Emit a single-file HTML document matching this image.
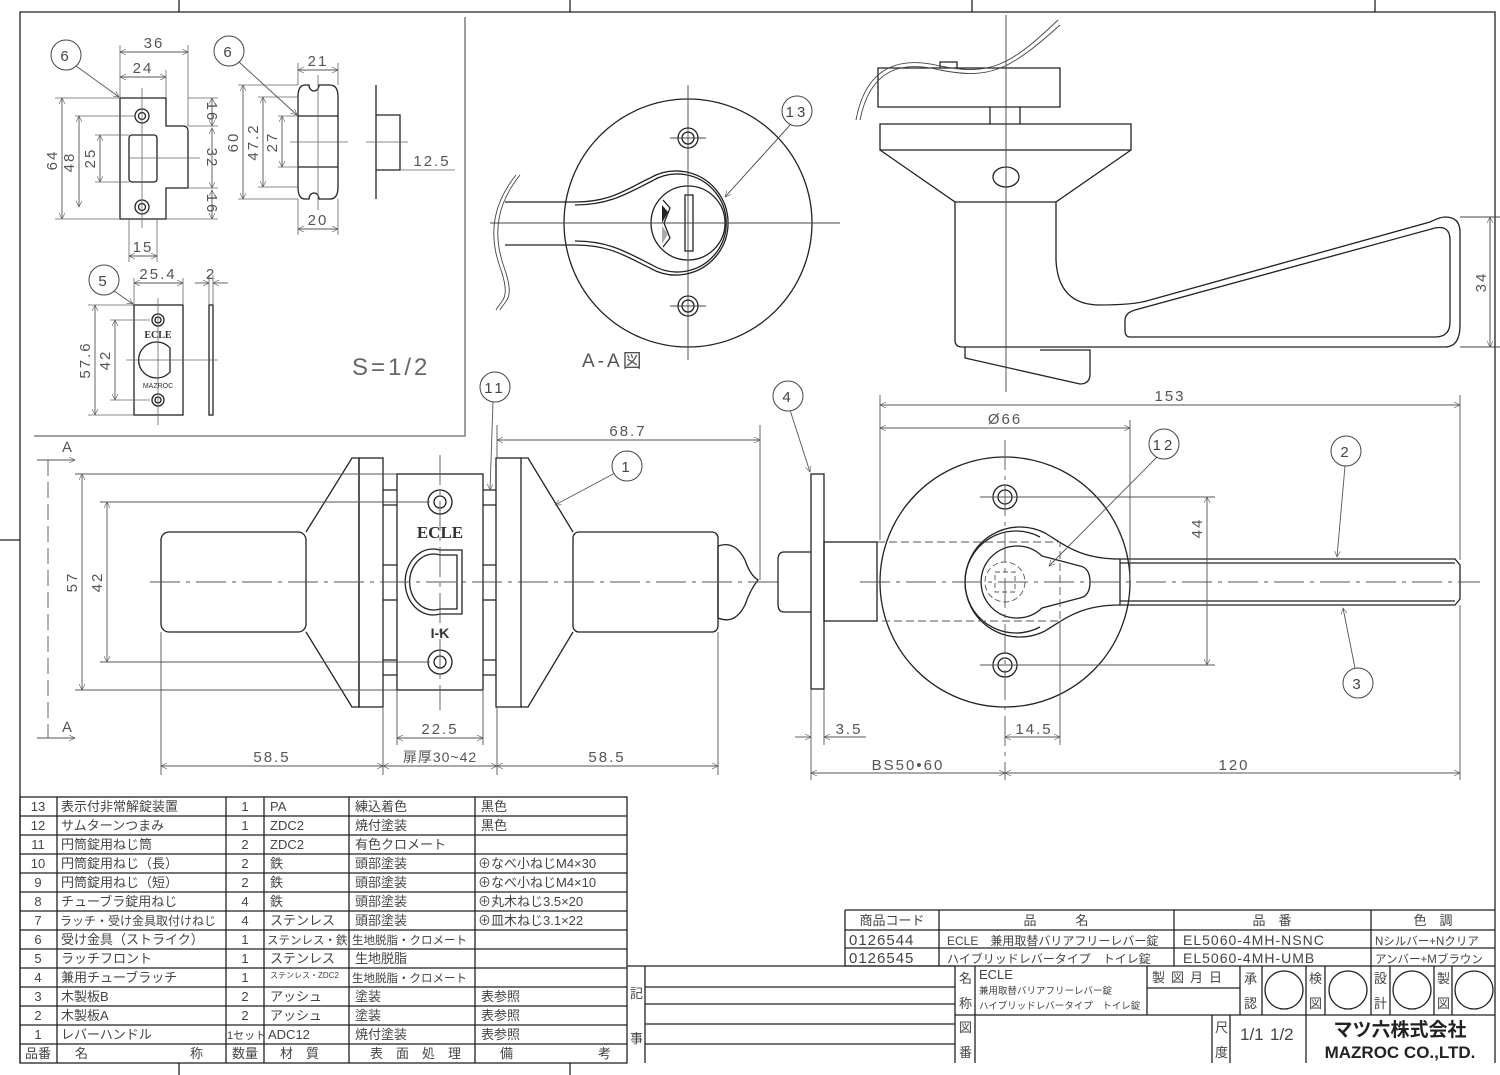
<!DOCTYPE html>
<html><head><meta charset="utf-8"><style>
html,body{margin:0;padding:0;background:#fff;}
svg{display:block;}
text{font-family:"Liberation Sans","Noto Sans CJK JP",sans-serif;fill:#444;}
.d{font-size:15px;letter-spacing:2px;fill:#555;}
.t{font-size:13px;fill:#333;}
.s{font-size:11.5px;}
.n{font-size:15px;letter-spacing:3px;fill:#444;}
</style></head><body>
<svg width="1500" height="1075" viewBox="0 0 1500 1075" xmlns="http://www.w3.org/2000/svg">
<defs>
<marker id="a" viewBox="0 0 10 10" refX="10" refY="5" markerWidth="10" markerHeight="6" orient="auto-start-reverse" markerUnits="userSpaceOnUse"><path d="M0,0 L10,5 L0,10" fill="none" stroke="#555" stroke-width="1"/></marker>
</defs>
<g fill="none" stroke="#222" stroke-width="1.3">
<path d="M20 1063 V12 H1495 V1063"/>
<path d="M179 0 V12 M570 0 V12 M972 0 V12 M1375 0 V12 M0 540 H20 M179 1063 V1075 M570 1063 V1075"/>
<path d="M465 17 V436 H34" stroke="#666"/>
</g>

<g fill="none" stroke="#222" stroke-width="1.3">
<path d="M120 98 H166 V126 H183 Q188 126 188 131 V188 H166 V219 H120 Z"/>
<rect x="129" y="135" width="28" height="47" rx="3"/>
<circle cx="142" cy="116" r="7"/><circle cx="142" cy="116" r="3.5"/>
<circle cx="142" cy="207" r="7"/><circle cx="142" cy="207" r="3.5"/>
<path d="M305 85 H309 A5 6 0 0 0 319 85 H330 Q338 85 338 97 V187 Q338 199 330 199 H319 A5 6 0 0 0 309 199 H305 Q298 199 298 187 V97 Q298 85 305 85 Z"/>
<path d="M298 116 H338 M298 167 H338"/>
<path d="M376 85 V199 M376 115 H400 V170 H376"/>
<rect x="134" y="305" width="49" height="110"/>
<path d="M170 348 A18 18 0 1 0 170 372 Z"/>
<circle cx="158" cy="320" r="6"/><circle cx="158" cy="320" r="3"/>
<circle cx="158" cy="400" r="6"/><circle cx="158" cy="400" r="3"/>
<rect x="209" y="305" width="4" height="110"/>
</g>
<g stroke="#666" stroke-width="0.8" fill="none">
<path d="M142 88 V228 M128 158 H200 M318 75 V210 M290 142 H348 M366 142 H408 M158 298 V425 M126 360 H218"/>
<path d="M120 98 H55 M120 219 H55 M134 116 H75 M129 135 H95 M129 182 H95 M188 98 H218 M188 126 H218 M188 188 H218 M166 219 H218 M120 98 V45 M188 126 V45 M166 98 V70 M129 219 V262 M157 219 V262"/>
<path d="M298 85 V63 M338 85 V63 M298 199 V235 M338 199 V235 M298 85 H238 M298 199 H238 M298 97 H258 M298 187 H258 M298 116 H278 M298 167 H278 M400 170 H455"/>
<path d="M134 305 V278 M183 305 V278 M209 305 V275 M213 305 V275 M134 305 H88 M134 415 H88 M150 320 H110 M150 400 H110"/>
</g>
<g stroke="#555" stroke-width="0.9" fill="none">
<line x1="120" y1="52" x2="188" y2="52" marker-start="url(#a)" marker-end="url(#a)"/>
<line x1="120" y1="77" x2="166" y2="77" marker-start="url(#a)" marker-end="url(#a)"/>
<line x1="62" y1="98" x2="62" y2="219" marker-start="url(#a)" marker-end="url(#a)"/>
<line x1="79" y1="116" x2="79" y2="207" marker-start="url(#a)" marker-end="url(#a)"/>
<line x1="100" y1="135" x2="100" y2="182" marker-start="url(#a)" marker-end="url(#a)"/>
<line x1="212" y1="98" x2="212" y2="126" marker-start="url(#a)" marker-end="url(#a)"/>
<line x1="212" y1="128" x2="212" y2="188" marker-start="url(#a)" marker-end="url(#a)"/>
<line x1="212" y1="190" x2="212" y2="219" marker-start="url(#a)" marker-end="url(#a)"/>
<line x1="129" y1="256" x2="157" y2="256" marker-start="url(#a)" marker-end="url(#a)"/>
<line x1="298" y1="70" x2="338" y2="70" marker-start="url(#a)" marker-end="url(#a)"/>
<line x1="298" y1="229" x2="338" y2="229" marker-start="url(#a)" marker-end="url(#a)"/>
<line x1="243" y1="85" x2="243" y2="199" marker-start="url(#a)" marker-end="url(#a)"/>
<line x1="263" y1="97" x2="263" y2="187" marker-start="url(#a)" marker-end="url(#a)"/>
<line x1="282" y1="116" x2="282" y2="167" marker-start="url(#a)" marker-end="url(#a)"/>
<line x1="134" y1="283" x2="183" y2="283" marker-start="url(#a)" marker-end="url(#a)"/>
<line x1="195" y1="283" x2="209" y2="283" marker-end="url(#a)"/><line x1="228" y1="283" x2="213" y2="283" marker-end="url(#a)"/>
<line x1="95" y1="305" x2="95" y2="415" marker-start="url(#a)" marker-end="url(#a)"/>
<line x1="115" y1="320" x2="115" y2="400" marker-start="url(#a)" marker-end="url(#a)"/>
<line x1="76" y1="66" x2="119" y2="97" marker-end="url(#a)"/>
<line x1="239" y1="62" x2="297" y2="115" marker-end="url(#a)"/>
<line x1="114" y1="291" x2="133" y2="304" marker-end="url(#a)"/>
</g>
<g stroke="#444" fill="#fff" stroke-width="1">
<circle cx="66" cy="55" r="15"/><circle cx="229" cy="51" r="15"/><circle cx="104" cy="280" r="15"/>
</g>
<text x="66" y="61" class="n" text-anchor="middle">6</text>
<text x="229" y="57" class="n" text-anchor="middle">6</text>
<text x="104" y="286" class="n" text-anchor="middle">5</text>
<text x="154" y="48" class="d" text-anchor="middle">36</text>
<text x="143" y="73" class="d" text-anchor="middle">24</text>
<text x="143" y="252" class="d" text-anchor="middle">15</text>
<text x="318" y="66" class="d" text-anchor="middle">21</text>
<text x="318" y="225" class="d" text-anchor="middle">20</text>
<text x="432" y="166" class="d" text-anchor="middle">12.5</text>
<text x="158" y="279" class="d" text-anchor="middle">25.4</text>
<text x="211" y="279" class="d" text-anchor="middle">2</text>
<text x="158" y="338" text-anchor="middle" style="font-family:'Liberation Serif',serif;font-size:10px;font-weight:bold;fill:#333">ECLE</text>
<text x="158" y="388" text-anchor="middle" style="font-size:7px;fill:#333">MAZROC</text>
<text x="352" y="375" style="font-size:24px;letter-spacing:3px;fill:#666">S=1/2</text>
<g class="d">
<text transform="translate(57,160) rotate(-90)" text-anchor="middle" class="d">64</text>
<text transform="translate(74,162) rotate(-90)" text-anchor="middle" class="d">48</text>
<text transform="translate(95,158) rotate(-90)" text-anchor="middle" class="d">25</text>
<text transform="translate(207,112) rotate(90)" text-anchor="middle" class="d">16</text>
<text transform="translate(207,158) rotate(90)" text-anchor="middle" class="d">32</text>
<text transform="translate(207,204) rotate(90)" text-anchor="middle" class="d">16</text>
<text transform="translate(238,142) rotate(-90)" text-anchor="middle" class="d">60</text>
<text transform="translate(258,142) rotate(-90)" text-anchor="middle" class="d">47.2</text>
<text transform="translate(277,142) rotate(-90)" text-anchor="middle" class="d">27</text>
<text transform="translate(90,360) rotate(-90)" text-anchor="middle" class="d">57.6</text>
<text transform="translate(110,360) rotate(-90)" text-anchor="middle" class="d">42</text>
</g>

<g fill="none" stroke="#222" stroke-width="1.3">
<circle cx="688" cy="223" r="124"/>
<circle cx="688" cy="138" r="10"/><circle cx="688" cy="138" r="6"/>
<circle cx="688" cy="306" r="10"/><circle cx="688" cy="306" r="6"/>
<path d="M575 202 C610 202 625 190 650 178 A52 52 0 1 1 650 268 C625 256 610 245 575 245"/>
<path d="M575 205 C610 205 628 193 652 181 A49 49 0 1 1 652 265 C628 253 610 241 575 241"/>
<circle cx="688" cy="223" r="37"/>
<rect x="685" y="195" width="8" height="56"/>
<path d="M505 202 H575 M505 245 H575"/>
<path d="M663 200 L670 208 L664 223 L670 238 L663 247" />
</g>
<path d="M662 205 L668 212 L662 223 Z" fill="#222"/>
<path d="M662 226 L668 234 L662 244 Z" fill="#aaa"/>
<g stroke="#444" stroke-width="0.9" fill="none">
<path d="M520 175 C500 200 490 230 505 270 C515 300 505 300 500 310"/>
<path d="M516 175 C496 200 486 230 501 270 C511 300 501 300 496 310"/>
<path d="M688 85 V360 M490 223 H840 M670 138 H706 M670 306 H706"/>
<line x1="791" y1="124" x2="725" y2="197" marker-end="url(#a)"/>
</g>
<circle cx="797" cy="111" r="15" fill="#fff" stroke="#444"/>
<text x="797" y="117" class="n" text-anchor="middle">13</text>
<text x="582" y="367" style="font-size:19px;letter-spacing:3px;fill:#555">A-A図</text>

<g fill="none" stroke="#222" stroke-width="1.3">
<path d="M878 68 H1060 V107 H878 Z M940 68 V62 H957 V68"/>
<path d="M880 124 H1131 V150 H880 Z"/>
<path d="M880 150 L955 202 V340 Q955 347 962 347 H1445 Q1460 347 1460 325 V232 Q1460 217 1445 217 Q1440 217 1430 222 L1150 300 Q1135 305 1100 305 Q1058 305 1056 260 V202 L1131 150"/>
<path d="M1125 320 Q1125 313 1135 310 L1435 228 Q1450 225 1450 240 V322 Q1450 337 1435 337 H1130 Q1125 337 1125 330 Z"/>
<path d="M955 202 H1056"/>
<ellipse cx="1006" cy="177" rx="13" ry="10"/>
<path d="M965 347 V358 L1080 384 Q1090 384 1090 374 V350 H1040"/>
<path d="M990 107 V124 M1020 107 V124"/>
</g>
<g stroke="#444" stroke-width="0.9" fill="none">
<path d="M1006 15 V392"/>
<path d="M860 120 C870 70 900 60 940 70 C990 80 1010 70 1060 25" /><path d="M856 120 C866 66 900 56 940 66 C990 76 1010 66 1058 20"/>
<path d="M1460 217 H1500 M1460 347 H1500"/>
<line x1="1490" y1="217" x2="1490" y2="347" marker-start="url(#a)" marker-end="url(#a)"/>
</g>
<text transform="translate(1486,282) rotate(-90)" text-anchor="middle" class="d">34</text>

<g fill="none" stroke="#222" stroke-width="1.3">
<rect x="161" y="532" width="145" height="100" rx="8"/>
<path d="M306 532 L352 458 H359 V707 H352 L306 632"/>
<rect x="359" y="458" width="24" height="249"/>
<path d="M383 490 H397 M383 505 H397 M383 565 H397 M383 600 H397 M383 660 H397 M383 675 H397"/>
<rect x="397" y="474" width="86" height="216"/>
<path d="M483 490 H496 M483 505 H496 M483 565 H496 M483 600 H496 M483 660 H496 M483 675 H496"/>
<rect x="496" y="458" width="25" height="249"/>
<path d="M521 458 L528 458 L573 532 M521 707 L528 707 L573 632"/>
<rect x="573" y="532" width="145" height="100" rx="6"/>
<path d="M718 546 Q735 540 745 560 Q750 575 758 580 Q750 590 745 605 Q735 625 718 618 Z"/>
<path d="M440 550 A28 33 0 1 0 440 614 H462 V550 Z"/>
<path d="M440 555 A24 28 0 1 0 440 609 H457 V555 Z"/>
<circle cx="440" cy="502" r="12"/><circle cx="440" cy="502" r="6"/>
<circle cx="440" cy="662" r="12"/><circle cx="440" cy="662" r="6"/>
</g>
<text x="440" y="538" text-anchor="middle" style="font-family:'Liberation Serif',serif;font-size:17px;font-weight:bold;fill:#333">ECLE</text>
<text x="440" y="638" text-anchor="middle" style="font-size:14px;font-weight:bold;fill:#333">I-K</text>
<g stroke="#555" stroke-width="0.9" fill="none">
<path d="M150 582 H780" stroke-dasharray="30 6 4 6"/>
<path d="M440 455 V710" stroke-dasharray="30 6 4 6"/>
<path d="M48 460 V738" stroke-dasharray="16 6"/>
<line x1="37" y1="460" x2="75" y2="460" marker-end="url(#a)"/>
<line x1="37" y1="738" x2="75" y2="738" marker-end="url(#a)"/>
<path d="M37 460 H48 M37 738 H48"/>
<path d="M75 474 H397 M100 502 H430 M100 662 H430 M75 690 H397"/>
<line x1="82" y1="474" x2="82" y2="690" marker-start="url(#a)" marker-end="url(#a)"/>
<line x1="107" y1="502" x2="107" y2="662" marker-start="url(#a)" marker-end="url(#a)"/>
<path d="M497 458 V425 M760 580 V425 M161 632 V775 M383 707 V775 M497 707 V775 M718 632 V775 M397 690 V745 M483 690 V745"/>
<line x1="497" y1="440" x2="760" y2="440" marker-start="url(#a)" marker-end="url(#a)"/>
<line x1="161" y1="766" x2="383" y2="766" marker-start="url(#a)" marker-end="url(#a)"/>
<line x1="383" y1="766" x2="497" y2="766" marker-start="url(#a)" marker-end="url(#a)"/>
<line x1="497" y1="766" x2="718" y2="766" marker-start="url(#a)" marker-end="url(#a)"/>
<line x1="397" y1="738" x2="483" y2="738" marker-start="url(#a)" marker-end="url(#a)"/>
<line x1="493" y1="402" x2="490" y2="490" marker-end="url(#a)"/>
<line x1="615" y1="473" x2="555" y2="505" marker-end="url(#a)"/>
</g>
<text x="62" y="452" class="d">A</text><text x="62" y="732" class="d">A</text>
<text transform="translate(77,582) rotate(-90)" text-anchor="middle" class="d">57</text>
<text transform="translate(102,582) rotate(-90)" text-anchor="middle" class="d">42</text>
<text x="628" y="436" class="d" text-anchor="middle">68.7</text>
<text x="272" y="762" class="d" text-anchor="middle">58.5</text>
<text x="440" y="762" text-anchor="middle" style="font-size:14px;fill:#555;letter-spacing:1px">扉厚30~42</text>
<text x="607" y="762" class="d" text-anchor="middle">58.5</text>
<text x="440" y="734" class="d" text-anchor="middle">22.5</text>
<circle cx="495" cy="387" r="15" fill="#fff" stroke="#444"/><text x="495" y="393" class="n" text-anchor="middle">11</text>
<circle cx="627" cy="466" r="15" fill="#fff" stroke="#444"/><text x="627" y="472" class="n" text-anchor="middle">1</text>

<g fill="none" stroke="#222" stroke-width="1.3">
<rect x="811" y="474" width="13" height="215"/>
<path d="M811 552 H784 Q778 552 778 560 V604 Q778 612 784 612 H811"/>
<rect x="824" y="542" width="53" height="79"/>
<circle cx="1005" cy="582" r="125"/>
<circle cx="1005" cy="497" r="12"/><circle cx="1005" cy="497" r="7"/>
<circle cx="1005" cy="665" r="12"/><circle cx="1005" cy="665" r="7"/>
<path d="M1120 559 C1080 559 1065 545 1045 533 A55 55 0 1 0 1045 631 C1065 619 1080 605 1120 605"/>
<path d="M1040 537 A51 51 0 1 0 1040 627"/>
<path d="M1042 556 L1080 566 Q1090 568 1090 582 Q1090 596 1080 598 L1042 608 A36 36 0 1 1 1042 556 Z"/>
<path d="M1120 559 H1455 L1460 565 V599 L1455 605 H1120 Z"/>
<path d="M1120 563 H1455 M1120 601 H1455"/>
</g>
<g stroke="#555" stroke-width="0.9" fill="none">
<path d="M877 542 H1060 V621 H877" stroke-dasharray="8 4"/>
<circle cx="1005" cy="582" r="20" stroke-dasharray="6 3"/>
<rect x="995" y="572" width="20" height="20" stroke-dasharray="5 3"/>
<path d="M860 582 H1480" stroke-dasharray="30 6 4 6"/>
<path d="M1005 440 V780" stroke-dasharray="30 6 4 6"/>
<path d="M880 395 V540 M1130 420 V580 M1460 395 V560 M1060 621 V745 M811 689 V780 M824 689 V745 M1460 605 V780 M980 497 H1215 M980 665 H1215"/>
<line x1="880" y1="405" x2="1460" y2="405" marker-start="url(#a)" marker-end="url(#a)"/>
<line x1="880" y1="428" x2="1130" y2="428" marker-start="url(#a)" marker-end="url(#a)"/>
<line x1="1207" y1="497" x2="1207" y2="665" marker-start="url(#a)" marker-end="url(#a)"/>
<line x1="795" y1="737" x2="811" y2="737" marker-end="url(#a)"/>
<line x1="866" y1="737" x2="824" y2="737" marker-end="url(#a)"/>
<line x1="1005" y1="737" x2="1060" y2="737" marker-start="url(#a)" marker-end="url(#a)"/>
<line x1="811" y1="773" x2="1005" y2="773" marker-start="url(#a)" marker-end="url(#a)"/>
<line x1="1005" y1="773" x2="1460" y2="773" marker-start="url(#a)" marker-end="url(#a)"/>
<line x1="790" y1="410" x2="810" y2="472" marker-end="url(#a)"/>
<line x1="1157" y1="457" x2="1049" y2="566" marker-end="url(#a)"/>
<line x1="1345" y1="466" x2="1337" y2="557" marker-end="url(#a)"/>
<line x1="1355" y1="668" x2="1343" y2="608" marker-end="url(#a)"/>
</g>
<text x="1170" y="401" class="d" text-anchor="middle">153</text>
<text x="1005" y="424" class="d" text-anchor="middle">Ø66</text>
<text transform="translate(1202,528) rotate(-90)" text-anchor="middle" class="d">44</text>
<text x="849" y="734" class="d" text-anchor="middle">3.5</text>
<text x="1034" y="734" class="d" text-anchor="middle">14.5</text>
<text x="908" y="770" class="d" text-anchor="middle">BS50•60</text>
<text x="1234" y="770" class="d" text-anchor="middle">120</text>
<circle cx="788" cy="396" r="15" fill="#fff" stroke="#444"/><text x="788" y="402" class="n" text-anchor="middle">4</text>
<circle cx="1164" cy="444" r="15" fill="#fff" stroke="#444"/><text x="1164" y="450" class="n" text-anchor="middle">12</text>
<circle cx="1346" cy="451" r="15" fill="#fff" stroke="#444"/><text x="1346" y="457" class="n" text-anchor="middle">2</text>
<circle cx="1358" cy="683" r="15" fill="#fff" stroke="#444"/><text x="1358" y="689" class="n" text-anchor="middle">3</text>

<g fill="none" stroke="#222" stroke-width="1.3">
<rect x="20" y="797" width="607" height="266"/>
<path d="M57 797 V1063 M226 797 V1063 M264 797 V1063 M349 797 V1063 M475 797 V1063"/>
<path d="M20 816 H627 M20 835 H627 M20 854 H627 M20 873 H627 M20 892 H627 M20 911 H627 M20 930 H627 M20 949 H627 M20 968 H627 M20 987 H627 M20 1006 H627 M20 1025 H627 M20 1044 H627"/>
<path d="M627 966 H955 V1063 M645 966 V1063 M645 987 H955 M645 1004 H955 M645 1024 H955 M645 1044 H955"/>
<path d="M845 910 H1495 M845 930 H1495 M845 948 H1495 M845 966 H1495 M845 910 V966 M939 910 V966 M1174 910 V966 M1371 910 V966"/>
<path d="M955 1015 H1495 M975 966 V1063 M1147 966 V1015 M1147 988 H1240 M1240 966 V1015 M1262 966 V1015 M1306 966 V1015 M1325 966 V1015 M1371 966 V1015 M1390 966 V1015 M1434 966 V1015 M1452 966 V1015 M1212 1015 V1063 M1230 1015 V1063 M1306 1015 V1063"/>
<circle cx="1284" cy="990" r="19"/><circle cx="1348" cy="990" r="19"/><circle cx="1412" cy="990" r="19"/><circle cx="1474" cy="990" r="19"/>
</g>
<g class="t">
<text x="38" y="811" text-anchor="middle">13</text><text x="61" y="811">表示付非常解錠装置</text><text x="245" y="811" text-anchor="middle">1</text><text x="270" y="811">PA</text><text x="355" y="811">練込着色</text><text x="481" y="811">黒色</text>
<text x="38" y="830" text-anchor="middle">12</text><text x="61" y="830">サムターンつまみ</text><text x="245" y="830" text-anchor="middle">1</text><text x="270" y="830">ZDC2</text><text x="355" y="830">焼付塗装</text><text x="481" y="830">黒色</text>
<text x="38" y="849" text-anchor="middle">11</text><text x="61" y="849">円筒錠用ねじ筒</text><text x="245" y="849" text-anchor="middle">2</text><text x="270" y="849">ZDC2</text><text x="355" y="849">有色クロメート</text>
<text x="38" y="868" text-anchor="middle">10</text><text x="61" y="868">円筒錠用ねじ（長）</text><text x="245" y="868" text-anchor="middle">2</text><text x="270" y="868">鉄</text><text x="355" y="868">頭部塗装</text><text x="478" y="868">⊕なべ小ねじM4×30</text>
<text x="38" y="887" text-anchor="middle">9</text><text x="61" y="887">円筒錠用ねじ（短）</text><text x="245" y="887" text-anchor="middle">2</text><text x="270" y="887">鉄</text><text x="355" y="887">頭部塗装</text><text x="478" y="887">⊕なべ小ねじM4×10</text>
<text x="38" y="906" text-anchor="middle">8</text><text x="61" y="906">チューブラ錠用ねじ</text><text x="245" y="906" text-anchor="middle">4</text><text x="270" y="906">鉄</text><text x="355" y="906">頭部塗装</text><text x="478" y="906">⊕丸木ねじ3.5×20</text>
<text x="38" y="925" text-anchor="middle">7</text><text x="60" y="925" class="s" style="font-size:12px">ラッチ・受け金具取付けねじ</text><text x="245" y="925" text-anchor="middle">4</text><text x="270" y="925">ステンレス</text><text x="355" y="925">頭部塗装</text><text x="478" y="925">⊕皿木ねじ3.1×22</text>
<text x="38" y="944" text-anchor="middle">6</text><text x="61" y="944">受け金具（ストライク）</text><text x="245" y="944" text-anchor="middle">1</text><text x="267" y="944" class="s">ステンレス・鉄</text><text x="352" y="944" class="s">生地脱脂・クロメート</text>
<text x="38" y="963" text-anchor="middle">5</text><text x="61" y="963">ラッチフロント</text><text x="245" y="963" text-anchor="middle">1</text><text x="270" y="963">ステンレス</text><text x="355" y="963">生地脱脂</text>
<text x="38" y="982" text-anchor="middle">4</text><text x="61" y="982">兼用チューブラッチ</text><text x="245" y="982" text-anchor="middle">1</text><text x="270" y="978" style="font-size:8px">ステンレス・ZDC2</text><text x="352" y="982" class="s">生地脱脂・クロメート</text>
<text x="38" y="1001" text-anchor="middle">3</text><text x="61" y="1001">木製板B</text><text x="245" y="1001" text-anchor="middle">2</text><text x="270" y="1001">アッシュ</text><text x="355" y="1001">塗装</text><text x="481" y="1001">表参照</text>
<text x="38" y="1020" text-anchor="middle">2</text><text x="61" y="1020">木製板A</text><text x="245" y="1020" text-anchor="middle">2</text><text x="270" y="1020">アッシュ</text><text x="355" y="1020">塗装</text><text x="481" y="1020">表参照</text>
<text x="38" y="1039" text-anchor="middle">1</text><text x="61" y="1039">レバーハンドル</text><text x="227" y="1039" style="font-size:11px">1セット</text><text x="268" y="1039">ADC12</text><text x="355" y="1039">焼付塗装</text><text x="481" y="1039">表参照</text>
<text x="38" y="1058" text-anchor="middle">品番</text><text x="75" y="1058">名</text><text x="190" y="1058">称</text><text x="245" y="1058" text-anchor="middle">数量</text><text x="280" y="1058">材　質</text><text x="370" y="1058">表　面　処　理</text><text x="500" y="1058">備</text><text x="598" y="1058">考</text>
<text x="630" y="998">記</text><text x="630" y="1043">事</text>
<text x="892" y="925" text-anchor="middle">商品コード</text><text x="1056" y="925" text-anchor="middle">品　　　名</text><text x="1272" y="925" text-anchor="middle">品　番</text><text x="1433" y="925" text-anchor="middle">色　調</text>
<text x="849" y="945" style="font-size:15px;letter-spacing:1px">0126544</text><text x="947" y="945" style="font-size:12px">ECLE　兼用取替バリアフリーレバー錠</text><text x="1183" y="945" style="font-size:14px;letter-spacing:1px">EL5060-4MH-NSNC</text><text x="1375" y="945" style="font-size:11.5px">Nシルバー+Nクリア</text>
<text x="849" y="963" style="font-size:15px;letter-spacing:1px">0126545</text><text x="947" y="963" style="font-size:12px">ハイブリッドレバータイプ　トイレ錠</text><text x="1183" y="963" style="font-size:14px;letter-spacing:1px">EL5060-4MH-UMB</text><text x="1375" y="963" style="font-size:11.5px">アンバー+Mブラウン</text>
<text x="959" y="983">名</text><text x="959" y="1008">称</text><text x="959" y="1032">図</text><text x="959" y="1057">番</text>
<text x="979" y="979">ECLE</text><text x="979" y="994" style="font-size:9.5px">兼用取替バリアフリーレバー錠</text><text x="979" y="1009" style="font-size:9.5px">ハイブリッドレバータイプ　トイレ錠</text>
<text x="1152" y="982" style="letter-spacing:6px">製図月日</text>
<text x="1244" y="983">承</text><text x="1244" y="1008">認</text><text x="1309" y="983">検</text><text x="1309" y="1008">図</text>
<text x="1374" y="983">設</text><text x="1374" y="1008">計</text><text x="1437" y="983">製</text><text x="1437" y="1008">図</text>
<text x="1215" y="1032">尺</text><text x="1215" y="1057">度</text>
<text x="1240" y="1040" style="font-size:17px">1/1</text><text x="1270" y="1040" style="font-size:17px">1/2</text>
<text x="1400" y="1036" text-anchor="middle" style="font-size:19px;font-weight:bold;fill:#222">マツ六株式会社</text>
<text x="1400" y="1058" text-anchor="middle" style="font-size:17px;font-weight:bold;fill:#222">MAZROC CO.,LTD.</text>
</g>
</svg>
</body></html>
